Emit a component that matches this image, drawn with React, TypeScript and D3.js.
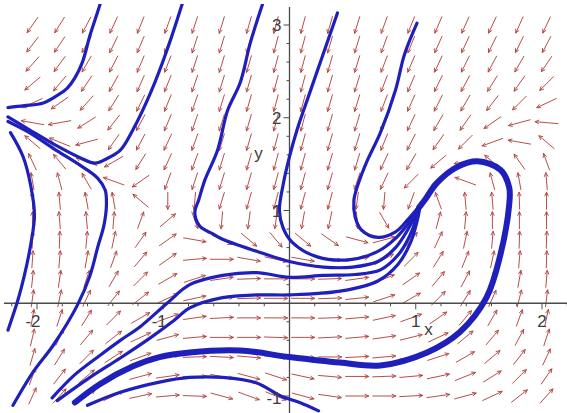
import React, { useEffect, useRef } from 'react'
import * as d3 from 'd3'

// arrow grid, 20 x 20, rows from top (y=3) to bottom (y=-1)
const gridX = [-2.036, -1.821, -1.607, -1.393, -1.179, -0.964, -0.75, -0.536, -0.321, -0.107,
  0.107, 0.321, 0.536, 0.75, 0.964, 1.179, 1.393, 1.607, 1.821, 2.036]
const gridY = [3, 2.789, 2.579, 2.368, 2.158, 1.947, 1.737, 1.526, 1.316, 1.105,
  0.895, 0.684, 0.474, 0.263, 0.053, -0.158, -0.368, -0.579, -0.789, -1]

// arrow directions in degrees (0 = right, 90 = up), one row per gridY
const fieldAngles = [
  [235, 238, 242, 245, 248, 250, 252, 253, 254, 255, 255, 254, 253, 250, 248, 247, 246, 245, 246, 245],
  [232, 236, 240, 244, 247, 249, 252, 253, 254, 255, 255, 254, 253, 250, 248, 246, 245, 244, 244, 242],
  [228, 234, 240, 243, 247, 249, 252, 253, 254, 255, 255, 254, 253, 249, 247, 245, 244, 242, 240, 236],
  [220, 230, 236, 241, 246, 248, 251, 253, 254, 255, 255, 254, 253, 249, 247, 244, 242, 238, 235, 225],
  [205, 215, 228, 238, 244, 248, 251, 253, 254, 255, 255, 254, 253, 249, 246, 243, 240, 232, 225, 205],
  [170, 190, 212, 232, 242, 247, 251, 253, 254, 255, 255, 254, 253, 248, 245, 240, 235, 215, 195, 175],
  [140, 158, 195, 235, 242, 245, 250, 253, 254, 255, 255, 254, 253, 248, 243, 235, 225, 200, 170, 140],
  [115, 130, 160, 210, 238, 245, 250, 253, 254, 255, 255, 254, 253, 245, 240, 220, 190, 140, 125, 110],
  [100, 105, 120, 160, 215, 250, 252, 253, 254, 255, 255, 254, 252, 245, 225, 220, 160, 105, 100, 95],
  [92, 95, 100, 100, 140, 270, 265, 253, 254, 255, 255, 255, 262, 265, 250, 110, 95, 95, 92, 90],
  [90, 95, 95, 85, 70, 40, 290, 265, 262, 262, 260, 258, 275, 300, 50, 75, 85, 90, 90, 90],
  [88, 88, 85, 78, 55, 35, 350, 335, 320, 310, 320, 325, 345, 15, 50, 65, 78, 85, 88, 88],
  [86, 85, 80, 70, 50, 35, 5, 0, 350, 348, 350, 355, 10, 30, 45, 58, 68, 78, 85, 88],
  [84, 82, 72, 60, 45, 30, 18, 8, 2, 0, 0, 2, 8, 22, 35, 50, 62, 72, 80, 85],
  [82, 78, 65, 52, 38, 25, 12, 5, 2, 0, 0, 2, 6, 18, 30, 45, 58, 66, 76, 83],
  [80, 72, 58, 45, 30, 20, 8, 3, 0, 0, 0, 2, 5, 12, 20, 35, 50, 60, 70, 78],
  [77, 65, 50, 38, 25, 15, 5, 0, 0, 358, 0, 3, 5, 8, 14, 25, 40, 50, 62, 72],
  [74, 58, 45, 33, 20, 10, 2, 357, 355, 355, 357, 0, 3, 5, 10, 18, 30, 40, 52, 65],
  [70, 52, 40, 28, 15, 8, 0, 350, 345, 342, 348, 355, 0, 2, 5, 12, 22, 32, 45, 55],
  [66, 48, 35, 25, 12, 5, 358, 345, 340, 338, 345, 352, 0, 0, 3, 8, 15, 25, 38, 48],
]

// solution curves, [x, y]
const curveTopLeft = [[-2.23, 2.11], [-2.10, 2.13], [-1.95, 2.16], [-1.84, 2.24], [-1.76, 2.32], [-1.70, 2.43], [-1.64, 2.60], [-1.58, 2.89], [-1.52, 3.14], [-1.49, 3.27]]
const curveDip = [[-0.84, 3.27], [-0.97, 2.73], [-1.10, 2.27], [-1.24, 1.87], [-1.34, 1.65], [-1.46, 1.55], [-1.54, 1.51], [-1.66, 1.57], [-1.86, 1.71], [-2.06, 1.87], [-2.23, 2.01]]
const curveRise = [[-2.19, -1.10], [-2.03, -0.74], [-1.87, -0.45], [-1.68, -0.02], [-1.58, 0.30], [-1.52, 0.60], [-1.47, 0.84], [-1.45, 1.06], [-1.46, 1.22], [-1.52, 1.35], [-1.66, 1.49], [-1.86, 1.66], [-2.06, 1.84], [-2.23, 1.96]]
const curveLeftEdge = [[-2.21, 1.84], [-2.11, 1.58], [-2.05, 1.27], [-2.02, 0.95], [-2.05, 0.63], [-2.10, 0.30], [-2.15, 0.04], [-2.23, -0.29]]
const curveA = [[-0.21, 3.24], [-0.31, 2.81], [-0.39, 2.38], [-0.49, 2.08], [-0.57, 1.65], [-0.67, 1.33], [-0.72, 1.11], [-0.75, 0.98], [-0.71, 0.83], [-0.61, 0.75], [-0.53, 0.69], [-0.26, 0.56], [0.00, 0.45], [0.27, 0.39], [0.50, 0.39], [0.70, 0.45], [0.84, 0.60], [0.94, 0.80], [1.00, 0.96], [1.02, 1.04]]
const curveB = [[0.38, 3.13], [0.26, 2.66], [0.14, 2.19], [0.06, 1.87], [0.00, 1.58], [-0.05, 1.28], [-0.08, 1.00], [-0.05, 0.81], [0.02, 0.66], [0.22, 0.50], [0.48, 0.47], [0.70, 0.56], [0.84, 0.70], [0.94, 0.86], [1.00, 0.99], [1.03, 1.05]]
const curveC = [[1.01, 3.02], [0.91, 2.68], [0.84, 2.30], [0.72, 1.84], [0.61, 1.52], [0.54, 1.27], [0.51, 1.11], [0.52, 0.93], [0.57, 0.79], [0.70, 0.71], [0.84, 0.77], [0.93, 0.89], [1.00, 1.00], [1.03, 1.05]]
const curveD = [[-1.88, -1.02], [-1.70, -0.77], [-1.50, -0.56], [-1.34, -0.40], [-1.18, -0.25], [-0.97, 0.00], [-0.79, 0.20], [-0.53, 0.30], [-0.26, 0.33], [0.00, 0.28], [0.27, 0.30], [0.52, 0.31], [0.72, 0.36], [0.86, 0.52], [0.95, 0.72], [1.00, 0.90], [1.02, 1.03]]
const curveE = [[-1.84, -1.05], [-1.58, -0.80], [-1.34, -0.59], [-1.10, -0.37], [-0.91, -0.18], [-0.79, -0.05], [-0.53, 0.06], [-0.26, 0.09], [0.00, 0.09], [0.40, 0.13], [0.70, 0.24], [0.86, 0.42], [0.96, 0.66], [1.01, 0.88], [1.03, 1.01]]
const curveLoop = [[-1.70, -1.07], [-1.50, -0.87], [-1.24, -0.68], [-1.03, -0.58], [-0.79, -0.53], [-0.39, -0.51], [0.00, -0.58], [0.40, -0.64], [0.72, -0.67], [1.09, -0.53], [1.35, -0.31], [1.56, 0.06], [1.67, 0.52], [1.74, 1.06], [1.74, 1.25], [1.67, 1.44], [1.49, 1.53], [1.33, 1.47], [1.17, 1.30], [1.07, 1.11], [1.03, 1.04]]
const curveBottom = [[-1.60, -1.10], [-1.34, -0.96], [-1.03, -0.85], [-0.79, -0.80], [-0.53, -0.80], [-0.26, -0.86], [-0.07, -1.00], [0.08, -1.07], [0.23, -1.16]]

const thinCurves = [curveTopLeft, curveDip, curveRise, curveLeftEdge, curveA, curveB, curveC, curveD, curveE, curveBottom]

const xTicks = [-2, -1, 1, 2]
const yTicks = [-1, 1, 2, 3]

const W = 567
const H = 413

export default function App() {
  const ref = useRef<SVGSVGElement>(null)

  useEffect(() => {
    const svg = d3.select(ref.current)
    svg.selectAll('*').remove()

    const x = d3.scaleLinear().domain([-2, 2]).range([37, 542])
    const y = d3.scaleLinear().domain([-1, 3]).range([396, 25])
    const x0 = x(0)
    const y0 = y(0)

    svg.append('rect').attr('width', W).attr('height', H).attr('fill', '#fff')

    svg.append('defs').append('clipPath').attr('id', 'plotclip')
      .append('rect').attr('x', 4).attr('y', 4).attr('width', W - 4).attr('height', H - 4)

    // direction field
    const a = 11.5, b = 8.5
    const arrows = svg.append('g')
      .attr('stroke', '#b2443e')
      .attr('stroke-width', 0.95)
      .attr('fill', 'none')
      .attr('stroke-linecap', 'round')
    fieldAngles.forEach((row, j) => {
      row.forEach((deg, i) => {
        const th = deg * Math.PI / 180
        const ux = Math.cos(th), uy = -Math.sin(th)
        const L = 1 / Math.sqrt((ux / a) ** 2 + (uy / b) ** 2)
        const cx = x(gridX[i]), cy = y(gridY[j])
        const tx = cx + ux * L, ty = cy + uy * L
        const sx = cx - ux * L, sy = cy - uy * L
        const h = 4, s = 0.45
        const h1x = tx - h * (ux * Math.cos(s) - uy * Math.sin(s))
        const h1y = ty - h * (ux * Math.sin(s) + uy * Math.cos(s))
        const h2x = tx - h * (ux * Math.cos(-s) - uy * Math.sin(-s))
        const h2y = ty - h * (ux * Math.sin(-s) + uy * Math.cos(-s))
        arrows.append('path')
          .attr('d', `M${sx},${sy}L${tx},${ty}M${h1x},${h1y}L${tx},${ty}L${h2x},${h2y}`)
      })
    })

    // axes
    const axes = svg.append('g').attr('stroke', '#4a4a4a').attr('stroke-width', 1.3)
    axes.append('line').attr('x1', 4).attr('x2', W).attr('y1', y0).attr('y2', y0)
    axes.append('line').attr('x1', x0).attr('x2', x0).attr('y1', 7).attr('y2', H)
    d3.range(-22, 23).forEach(k => {
      if (k % 2 !== 0 || k === 0) return
      const v = k / 10
      const major = k % 10 === 0
      axes.append('line').attr('x1', x(v)).attr('x2', x(v))
        .attr('y1', y0).attr('y2', y0 + (major ? 6 : 3)).attr('stroke-width', 1)
    })
    d3.range(-10, 32).forEach(k => {
      if (k % 2 !== 0 || k === 0) return
      const v = k / 10
      const major = k % 10 === 0
      axes.append('line').attr('x1', x0).attr('x2', x0 - (major ? 6 : 3))
        .attr('y1', y(v)).attr('y2', y(v)).attr('stroke-width', 1)
    })

    // solution curves
    const line = d3.line<number[]>()
      .x(d => x(d[0]))
      .y(d => y(d[1]))
      .curve(d3.curveCatmullRom.alpha(0.5))
    const curves = svg.append('g').attr('clip-path', 'url(#plotclip)')
      .attr('fill', 'none').attr('stroke', '#1f1fbc')
      .attr('stroke-linecap', 'round').attr('stroke-linejoin', 'round')
    thinCurves.forEach(c => {
      curves.append('path').attr('d', line(c)).attr('stroke-width', 3.2)
    })
    curves.append('path').attr('d', line(curveLoop)).attr('stroke-width', 6)

    // labels
    const labels = svg.append('g')
      .attr('font-family', 'Liberation Sans, Arial, sans-serif')
      .attr('font-size', 17)
      .attr('fill', '#3c3c3c')
    xTicks.forEach(t => {
      labels.append('text').attr('x', x(t) + (t < 0 ? -4 : 0)).attr('y', y0 + 24)
        .attr('text-anchor', 'middle').text(String(t))
    })
    yTicks.forEach(t => {
      labels.append('text').attr('x', x0 - 8).attr('y', y(t) + 6 + (t < 0 ? 2 : 0))
        .attr('text-anchor', 'end').text(String(t))
    })
    labels.append('text').attr('x', x(1.1)).attr('y', y0 + 32).attr('text-anchor', 'middle').text('x')
    labels.append('text').attr('x', x0 - 31).attr('y', y(1.55)).attr('text-anchor', 'middle').text('y')
  }, [])

  return (
    <svg ref={ref} width={W} height={H}
      style={{ position: 'absolute', left: 0, top: 0, display: 'block' }} />
  )
}
